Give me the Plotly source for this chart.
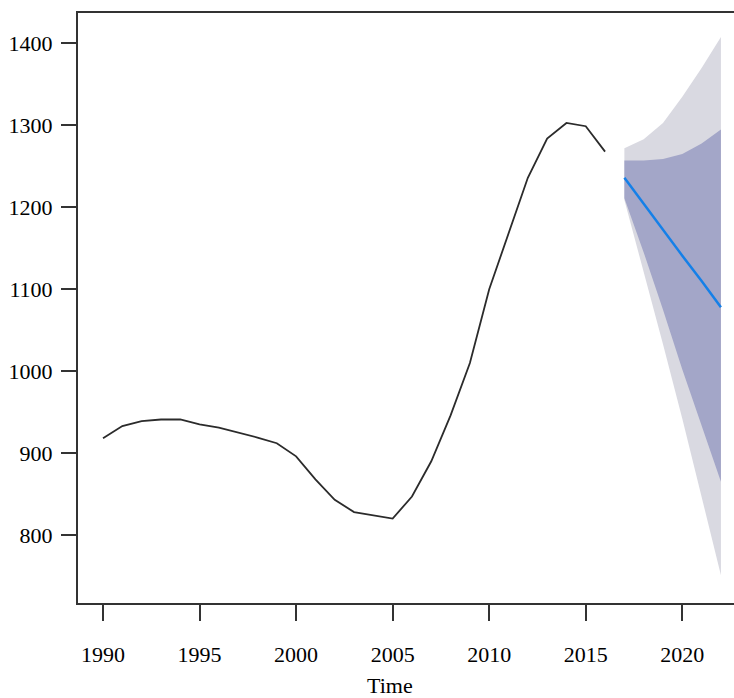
import plotly.graph_objects as go

# Historical series
hist_years = list(range(1990, 2017))
hist_values = [918, 933, 939, 941, 941, 935, 931, 925, 919, 912, 896, 868, 843,
               828, 824, 820, 847, 890, 946, 1010, 1100, 1168, 1236, 1284, 1303,
               1299, 1268]

# Forecast
fc_years = [2017, 2018, 2019, 2020, 2021, 2022]
fc_mean = [1236, 1204, 1173, 1141, 1110, 1078]
lo80 = [1211, 1145, 1075, 1002, 934, 865]
hi80 = [1257, 1257, 1259, 1265, 1278, 1295]
lo95 = [1209, 1122, 1033, 942, 848, 751]
hi95 = [1272, 1283, 1303, 1335, 1370, 1408]

x_ticks = [1990, 1995, 2000, 2005, 2010, 2015, 2020]
y_ticks = [800, 900, 1000, 1100, 1200, 1300, 1400]

fig = go.Figure()

fig.add_trace(go.Scatter(
    x=fc_years + fc_years[::-1], y=hi95 + lo95[::-1],
    fill="toself", fillcolor="#D9D9E1", line=dict(width=0),
    mode="lines", hoverinfo="skip", showlegend=False))
fig.add_trace(go.Scatter(
    x=fc_years + fc_years[::-1], y=hi80 + lo80[::-1],
    fill="toself", fillcolor="#A3A6C8", line=dict(width=0),
    mode="lines", hoverinfo="skip", showlegend=False))
fig.add_trace(go.Scatter(
    x=fc_years, y=fc_mean, mode="lines",
    line=dict(color="#1580E8", width=2.5), showlegend=False))
fig.add_trace(go.Scatter(
    x=hist_years, y=hist_values, mode="lines",
    line=dict(color="#2b2b2b", width=1.8), showlegend=False))

font = dict(family="Liberation Serif", size=22, color="black")

fig.update_xaxes(
    range=[1988.705, 2022.677], tickvals=x_ticks, ticks="outside", ticklen=16,
    tickwidth=1.5, tickcolor="#333", showline=True, linecolor="#333",
    linewidth=2, mirror=True, showgrid=False, zeroline=False,
    tickfont=font, ticklabelstandoff=15)
fig.update_yaxes(
    range=[717, 1437.2], tickvals=y_ticks, ticks="outside", ticklen=15,
    tickwidth=1.5, tickcolor="#333", showline=True, linecolor="#333",
    linewidth=2, showgrid=False, zeroline=False, tickfont=font,
    ticklabelstandoff=4)

fig.add_annotation(
    text="Time", xref="paper", yref="paper", x=(390 - 78) / 656,
    y=-(685 - 603) / 590, xanchor="center", yanchor="middle",
    showarrow=False, font=font)

fig.update_layout(
    width=734, height=698, plot_bgcolor="white", paper_bgcolor="white",
    margin=dict(l=78, r=0, t=13, b=95), font=font)

fig.write_html(
    "out.html",
    config={"displayModeBar": False},
    post_script="document.body.style.margin='0';document.body.style.overflow='hidden';",
)
